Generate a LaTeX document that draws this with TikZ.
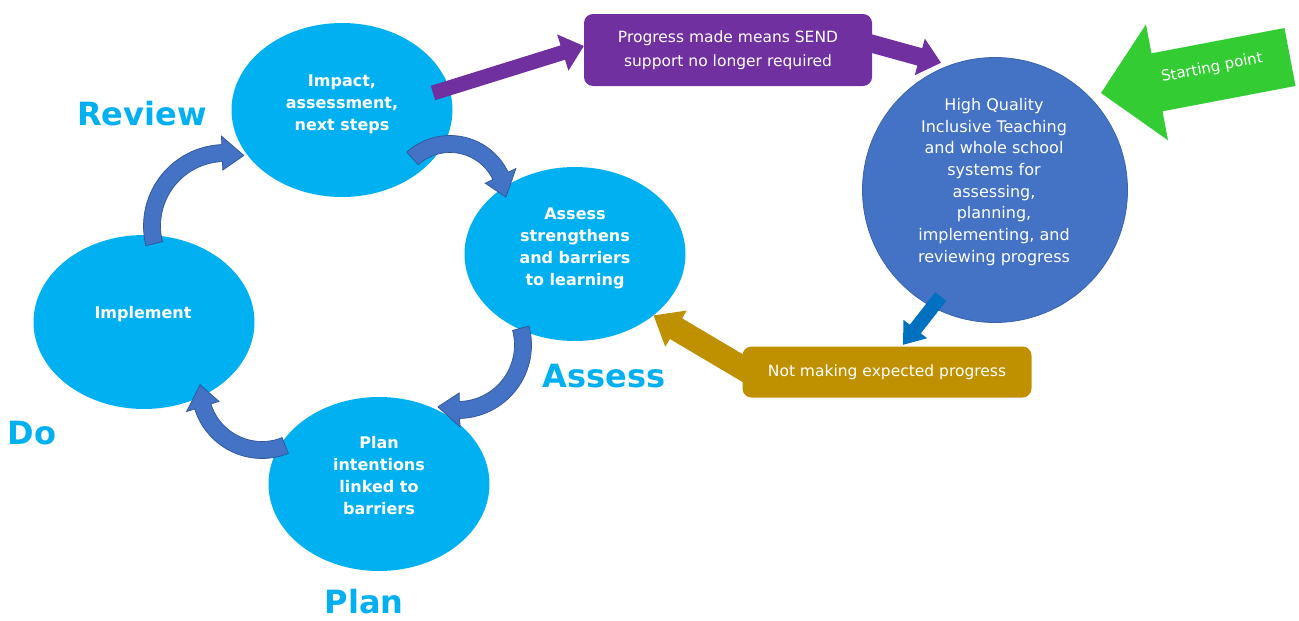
\documentclass[tikz,border=0pt]{standalone}
\usepackage{fontspec}
\setmainfont{DejaVu Sans}
\usetikzlibrary{shapes.geometric,calc}
\definecolor{cyanE}{HTML}{00B0F0}
\definecolor{hqblue}{HTML}{4472C4}
\definecolor{hqline}{HTML}{3A64AF}
\definecolor{purp}{HTML}{7030A0}
\definecolor{goldC}{HTML}{BF9000}
\definecolor{dblue}{HTML}{0070C0}
\definecolor{greenC}{HTML}{33CC33}
\definecolor{cfill}{HTML}{4472C4}
\definecolor{cline}{HTML}{2F5597}
\pgfdeclarelayer{bottom}
\pgfdeclarelayer{mid}
\pgfsetlayers{bottom,mid,main}
\newcommand\curvarrow[5]{%
  \begin{scope}[shift={(#1,#2)}]
  \pgfmathsetmacro\carRo{#3+8.5}
  \pgfmathsetmacro\carRi{#3-8.5}
  \pgfmathsetmacro\carRH{#3+17}
  \pgfmathsetmacro\carRh{#3-17}
  \pgfmathsetmacro\carHb{#5-22/#3*57.2958}
  \filldraw[carrowstyle] plot[domain=#4:\carHb,samples=30] ({\carRo*cos(\x)},{\carRo*sin(\x)})
    -- ({\carRH*cos(\carHb)},{\carRH*sin(\carHb)})
    -- ({#3*cos(#5)},{#3*sin(#5)})
    -- ({\carRh*cos(\carHb)},{\carRh*sin(\carHb)})
    -- ({\carRi*cos(\carHb)},{\carRi*sin(\carHb)})
    -- plot[domain=\carHb:#4,samples=30] ({\carRi*cos(\x)},{\carRi*sin(\x)}) -- cycle;
  \end{scope}}
\newcommand\blockarrow[6]{%
  \coordinate (ba-m) at ($(#2)!#5!(#1)$);
  \fill[#6] ($(#1)!#3!90:(#2)$) -- ($(ba-m)!#3!90:(#2)$) -- ($(ba-m)!#4!90:(#2)$) -- (#2)
    -- ($(ba-m)!#4!-90:(#2)$) -- ($(ba-m)!#3!-90:(#2)$) -- ($(#1)!#3!-90:(#2)$) -- cycle;}
\tikzset{
  cell/.style={ellipse, fill=cyanE, minimum width=221pt, minimum height=174pt, inner sep=0pt},
  etext/.style={text=white, align=center, font=\bfseries\fontsize{16}{22}\selectfont},
  hqstyle/.style={circle, fill=hqblue, draw=hqline, line width=0.8pt, minimum size=265pt, inner sep=0pt},
  hqtext/.style={text=white, align=center, font=\fontsize{16}{21.7}\selectfont},
  boxstyle/.style={rectangle, rounded corners=9pt, inner sep=0pt, text=white, align=center, font=\fontsize{15.5}{24}\selectfont},
  head/.style={text=cyanE, font=\bfseries\fontsize{32}{36}\selectfont, inner sep=0pt},
  carrowstyle/.style={fill=cfill, draw=cline, line width=0.7pt, line join=miter},
}
\begin{document}
\begin{tikzpicture}[x=1pt,y=-1pt]
\useasboundingbox (0,0) rectangle (1299,621);
\begin{pgfonlayer}{bottom}
\fill[white] (0,0) rectangle (1299,621);
\node[cell] (impact) at (342,110) {};
\node[cell] (assessn) at (575,254) {};
\node[cell] (implement) at (144,322) {};
\node[cell] (plann) at (379,484) {};
\node[hqstyle] (hq) at (995,190) {};
\end{pgfonlayer}
% texts in cells
\node[etext] (t1) at (342,104) {Impact,\\assessment,\\next steps};
\node[etext] (t2) at (575,248) {Assess\\strengthens\\and barriers\\to learning};
\node[etext] (t3) at (143,314) {Implement};
\node[etext] (t4) at (379,476) {Plan\\intentions\\linked to\\barriers};
\node[hqtext] (t5) at (994,182) {High Quality\\Inclusive Teaching\\and whole school\\systems for\\assessing,\\planning,\\implementing, and\\reviewing progress};
% boxes
\node[boxstyle, fill=purp, minimum width=288pt, minimum height=72pt] (progress) at (728,50) {Progress made means SEND\\support no longer required};
\node[boxstyle, fill=goldC, minimum width=289pt, minimum height=51pt] (notmaking) at (887,372) {Not making expected progress};
% headings
\node[head] (hr) at (142,114) {Review};
\node[head] (ha) at (604,376) {Assess};
\node[head] (hd) at (32,433) {Do};
\node[head] (hp) at (364,602) {Plan};
% connector end points
\coordinate (p1a) at (433,93);
\coordinate (p1b) at ([yshift=4pt]progress.west);
\coordinate (p2a) at ([xshift=-10pt,yshift=9pt]progress.east);
\coordinate (p2b) at ($(hq.center)!1.04!(hq.113)$);
\coordinate (dba) at ($(hq.center)!0.9!(hq.243)$);
\coordinate (dbb) at ([xshift=16pt,yshift=1.5pt]notmaking.north);
\coordinate (ga) at ([xshift=12pt,yshift=-3pt]notmaking.west);
\coordinate (gb) at (assessn.-38);
\coordinate (gra) at (1290,57);
\coordinate (grb) at (1101,93);
\begin{pgfonlayer}{mid}
\curvarrow{225}{226}{73}{166}{285}
\curvarrow{450}{200}{56}{228}{357}
\curvarrow{458}{345}{65}{-15}{108}
\curvarrow{262}{388}{62}{68}{183}
\blockarrow{p1a}{p1b}{7.5pt}{19pt}{22pt}{purp}
\blockarrow{p2a}{p2b}{9pt}{19pt}{22pt}{purp}
\blockarrow{dba}{dbb}{7pt}{15pt}{20pt}{dblue}
\blockarrow{ga}{gb}{12pt}{21pt}{26pt}{goldC}
\blockarrow{gra}{grb}{29.5pt}{59pt}{57pt}{greenC}
\end{pgfonlayer}
\node[rotate=11, text=white, font=\fontsize{15}{18}\selectfont, inner sep=0pt] (start) at (1212,68) {Starting point};
\end{tikzpicture}
\end{document}
